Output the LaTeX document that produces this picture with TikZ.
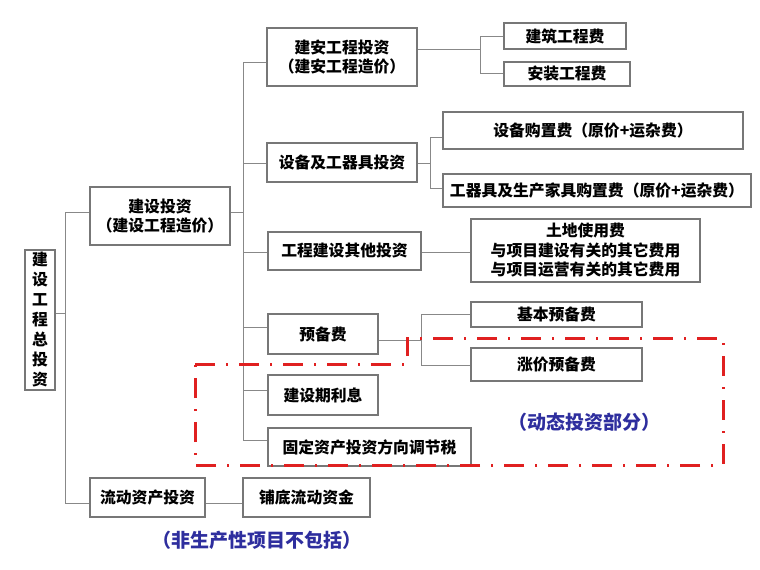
\documentclass[tikz,border=0pt]{standalone}
\usepackage{fontspec}
\setmainfont{Noto Sans CJK SC}
\definecolor{boxgray}{HTML}{777777}
\definecolor{linegray}{HTML}{888888}
\definecolor{dashred}{HTML}{E02020}
\definecolor{noteblue}{HTML}{2E2E9E}
\begin{document}
\begin{tikzpicture}[x=1pt,y=-1pt,
  box/.style={draw=boxgray, line width=1.2pt, inner sep=0pt, align=center, font=\fontsize{15.8}{19.5}\selectfont\bfseries},
  conn/.style={draw=linegray, line width=1pt},
  dyn/.style={draw=dashred, line width=3pt, dash pattern=on 20pt off 11pt on 2pt off 11pt},
  note/.style={text=noteblue, font=\fontsize{19}{22}\selectfont\bfseries}]
\fill[white] (0,0) rectangle (760,570);
\useasboundingbox (0,0) rectangle (760,570);

% boxes
\node[box, minimum width=30pt, minimum height=140pt, font=\fontsize{15.8}{20}\selectfont\bfseries] (root) at (40,320) {建\\设\\工\\程\\总\\投\\资};
\node[box, minimum width=140pt, minimum height=58pt] (jsz) at (160,216) {建设投资\\（建设工程造价）};
\node[box, minimum width=115pt, minimum height=39pt] (ldzc) at (147.5,497.5) {流动资产投资};
\node[box, minimum width=127pt, minimum height=39pt] (pdld) at (306.5,497.5) {铺底流动资金};
\node[box, minimum width=150pt, minimum height=58pt] (jagc) at (342,57) {建安工程投资\\（建安工程造价）};
\node[box, minimum width=122pt, minimum height=26pt] (jzgc) at (565,36) {建筑工程费};
\node[box, minimum width=126pt, minimum height=24pt] (azgc) at (567,74) {安装工程费};
\node[box, minimum width=150pt, minimum height=39pt] (sbgq) at (342,162.5) {设备及工器具投资};
\node[box, minimum width=300pt, minimum height=37pt] (sbgz) at (593,130.5) {设备购置费（原价+运杂费）};
\node[box, minimum width=308pt, minimum height=33pt] (gqj) at (597,190.5) {工器具及生产家具购置费（原价+运杂费）};
\node[box, minimum width=153pt, minimum height=38pt] (gcqt) at (344.5,251) {工程建设其他投资};
\node[box, minimum width=229pt, minimum height=63pt] (tdsy) at (585.5,250.5) {土地使用费\\与项目建设有关的其它费用\\与项目运营有关的其它费用};
\node[box, minimum width=110pt, minimum height=40pt] (ybf) at (323,334) {预备费};
\node[box, minimum width=171pt, minimum height=25pt] (jbyb) at (556.5,314.5) {基本预备费};
\node[box, minimum width=171pt, minimum height=33pt] (zjyb) at (556.5,364.5) {涨价预备费};
\node[box, minimum width=110pt, minimum height=40pt] (jsql) at (323,395) {建设期利息};
\node[box, minimum width=203pt, minimum height=38pt] (gdzc) at (369.5,447) {固定资产投资方向调节税};

% first trunk
\coordinate (A1) at (65,212);
\coordinate (A2) at (65,503);
\draw[conn] (A1) -- (A2);
\draw[conn] (A1) -- (A1 -| jsz.west);
\draw[conn] (A2) -- (A2 -| ldzc.west);
\draw[conn] ([yshift=7pt]root.east) -- ([yshift=7pt]root.east -| A1);
\draw[conn] (ldzc.east |- A2) -- (pdld.west |- A2);

% second trunk
\coordinate (B1) at (243,62);
\coordinate (B2) at (243,163);
\coordinate (B3) at (243,252);
\coordinate (B4) at (243,327);
\coordinate (B5) at (243,390);
\coordinate (B6) at (243,440);
\draw[conn] (jsz.east |- A1) -- (A1 -| B1);
\draw[conn] (B1) -- (B6);
\draw[conn] (B1) -- (B1 -| jagc.west);
\draw[conn] (B2) -- (B2 -| sbgq.west);
\draw[conn] (B3) -- (B3 -| gcqt.west);
\draw[conn] (B4) -- (B4 -| ybf.west);
\draw[conn] (B5) -- (B5 -| jsql.west);
\draw[conn] (B6) -- (B6 -| gdzc.west);

% sub-branches
\coordinate (C0) at (480,49);
\coordinate (C1) at (480,36);
\coordinate (C2) at (480,73);
\draw[conn] (jagc.east |- C0) -- (C0);
\draw[conn] (C1) -- (C2);
\draw[conn] (C1) -- (C1 -| jzgc.west);
\draw[conn] (C2) -- (C2 -| azgc.west);

\coordinate (D0) at (430,163);
\coordinate (D1) at (430,137);
\coordinate (D2) at (430,188);
\draw[conn] (sbgq.east |- D0) -- (D0);
\draw[conn] (D1) -- (D2);
\draw[conn] (D1) -- (D1 -| sbgz.west);
\draw[conn] (D2) -- (D2 -| gqj.west);

\draw[conn] (B3 -| gcqt.east) -- (B3 -| tdsy.west);

\coordinate (E0) at (421,340);
\coordinate (E1) at (421,314);
\coordinate (E2) at (421,365);
\draw[conn] (ybf.east |- E0) -- (E0);
\draw[conn] (E1) -- (E2);
\draw[conn] (E1) -- (E1 -| jbyb.west);
\draw[conn] (E2) -- (E2 -| zjyb.west);

% dynamic investment region
\draw[dyn] (195,364) -- (407,364) -- (407,338) -- (723,338) -- (723,465) -- (195,465) -- cycle;

% notes
\node[note] (n1) at (584,422) {（动态投资部分）};
\node[note] (n2) at (257,540) {（非生产性项目不包括）};
\end{tikzpicture}
\end{document}
